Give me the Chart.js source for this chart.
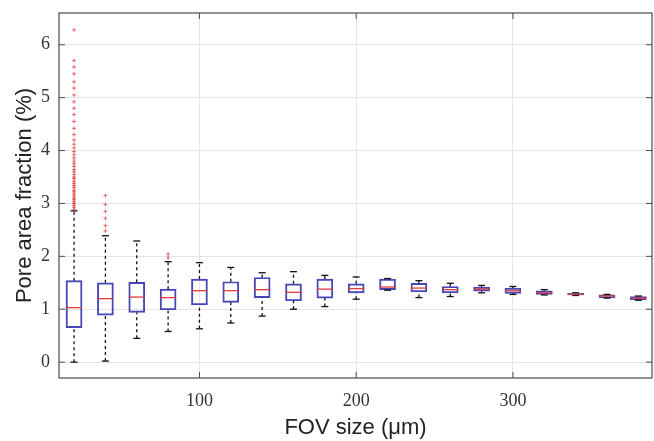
<!DOCTYPE html>
<html>
<head>
<meta charset="utf-8">
<script src="https://cdn.jsdelivr.net/npm/chart.js@4/dist/chart.umd.min.js"></script>
<style>
  body { margin: 0; background: #fff; }
</style>
</head>
<body>
<canvas id="myChart" width="654" height="441"></canvas>
<script>
// FOV sizes (um) and box stats
const fov = [20, 40, 60, 80, 100, 120, 140, 160, 180, 200, 220, 240, 260, 280, 300, 320, 340, 360, 380];
const q1 = [0.65, 0.89, 0.94, 0.99, 1.08, 1.13, 1.22, 1.16, 1.21, 1.31, 1.37, 1.33, 1.31, 1.34, 1.30, 1.28, 1.27, 1.22, 1.18];
const median = [1.03, 1.20, 1.23, 1.22, 1.35, 1.35, 1.37, 1.32, 1.38, 1.39, 1.42, 1.40, 1.37, 1.38, 1.35, 1.31, 1.28, 1.25, 1.21];
const q3 = [1.54, 1.50, 1.51, 1.38, 1.57, 1.52, 1.60, 1.48, 1.57, 1.48, 1.57, 1.49, 1.43, 1.42, 1.40, 1.35, 1.30, 1.27, 1.24];
const whiskerLo = [0.00, 0.02, 0.45, 0.58, 0.63, 0.74, 0.87, 1.00, 1.05, 1.19, 1.36, 1.22, 1.24, 1.31, 1.28, 1.27, 1.26, 1.21, 1.17];
const whiskerHi = [2.86, 2.39, 2.29, 1.90, 1.88, 1.79, 1.69, 1.71, 1.64, 1.61, 1.58, 1.54, 1.49, 1.45, 1.43, 1.37, 1.31, 1.28, 1.25];
const outliers = [
  [2.88, 2.92, 2.96, 3.0, 3.03, 3.07, 3.1, 3.14, 3.18, 3.22, 3.25, 3.3, 3.34, 3.38, 3.42, 3.47, 3.5, 3.55, 3.6, 3.64,
   3.7, 3.75, 3.8, 3.86, 3.92, 3.98, 4.05, 4.12, 4.2, 4.3, 4.42, 4.55, 4.68, 4.8, 4.92, 5.05, 5.18, 5.3, 5.45, 5.58, 5.7, 6.28],
  [2.48, 2.58, 2.72, 2.85, 2.98, 3.15],
  [],
  [1.97, 2.04],
  [], [], [], [], [], [], [], [], [], [], [], [], [], [], []
];
const yTicks = [0, 1, 2, 3, 4, 5, 6];
const xTicks = [100, 200, 300];

const boxBlue = 'rgb(70,70,185)';
const medRed = 'rgb(225,60,60)';

// build the line pieces for the dashed whiskers (gaps between them)
let whiskerPts = [];
fov.forEach((x, i) => {
  whiskerPts.push({x: x, y: q3[i]}, {x: x, y: whiskerHi[i]}, {x: x, y: null});
  whiskerPts.push({x: x, y: whiskerLo[i]}, {x: x, y: q1[i]}, {x: x, y: null});
});
let capPts = [];
fov.forEach((x, i) => {
  capPts.push({x: x, y: whiskerHi[i]}, {x: x, y: whiskerLo[i]});
});
let outPts = [];
fov.forEach((x, i) => {
  outliers[i].forEach(v => outPts.push({x: x, y: v}));
});

// frame + inward tick marks, like the matlab axes
const framePlugin = {
  id: 'frame',
  afterDraw(chart) {
    const {ctx, chartArea: a, scales} = chart;
    ctx.save();
    ctx.strokeStyle = '#4a4a4a';
    ctx.lineWidth = 1.2;
    ctx.strokeRect(a.left, a.top, a.right - a.left, a.bottom - a.top);
    ctx.lineWidth = 1;
    yTicks.forEach(v => {
      const y = scales.y.getPixelForValue(v);
      ctx.beginPath();
      ctx.moveTo(a.left, y); ctx.lineTo(a.left + 6, y);
      ctx.moveTo(a.right, y); ctx.lineTo(a.right - 6, y);
      ctx.stroke();
    });
    xTicks.forEach(v => {
      const x = scales.x.getPixelForValue(v);
      ctx.beginPath();
      ctx.moveTo(x, a.bottom); ctx.lineTo(x, a.bottom - 6);
      ctx.moveTo(x, a.top); ctx.lineTo(x, a.top + 6);
      ctx.stroke();
    });
    ctx.restore();
  }
};

const ctx = document.getElementById('myChart').getContext('2d');
const boxChart = new Chart(ctx, {
  type: 'bar',
  data: {
    datasets: [
      {
        type: 'scatter',
        label: 'median',
        data: fov.map((x, i) => ({x: x, y: median[i]})),
        pointStyle: 'line',
        pointRadius: 8,
        pointBorderColor: medRed,
        pointBorderWidth: 1.3,
        order: 0
      },
      {
        type: 'scatter',
        label: 'outliers',
        data: outPts,
        pointStyle: 'cross',
        pointRadius: 2,
        pointBorderColor: 'rgba(225,40,40,0.65)',
        pointBorderWidth: 1,
        order: 1
      },
      {
        type: 'scatter',
        label: 'caps',
        data: capPts,
        pointStyle: 'line',
        pointRadius: 3.5,
        pointBorderColor: '#111',
        pointBorderWidth: 1.3,
        order: 2
      },
      {
        type: 'line',
        label: 'whiskers',
        data: whiskerPts,
        borderColor: '#111',
        borderWidth: 1.3,
        borderDash: [3, 3],
        pointRadius: 0,
        spanGaps: false,
        order: 3
      },
      {
        type: 'bar',
        label: 'box',
        data: fov.map((x, i) => ({x: x, y: [q1[i], q3[i]]})),
        backgroundColor: 'rgba(255,255,255,0)',
        borderColor: boxBlue,
        borderWidth: 1.3,
        borderSkipped: false,
        barThickness: 16,
        grouped: false,
        order: 4
      }
    ]
  },
  options: {
    responsive: false,
    animation: false,
    layout: { autoPadding: false, padding: { top: 13, right: 2, left: 0, bottom: 0 } },
    plugins: {
      legend: { display: false },
      tooltip: { enabled: false }
    },
    scales: {
      x: {
        type: 'linear',
        offset: false,
        min: 10.4,
        max: 388.7,
        afterFit: s => { s.height = 63; s.paddingLeft = 0; s.paddingRight = 0; },
        afterBuildTicks: s => { s.ticks = xTicks.map(v => ({value: v})); },
        ticks: {
          stepSize: 100,
          includeBounds: false,
          padding: 12,
          color: '#333',
          font: { family: 'Liberation Serif', size: 18 }
        },
        grid: { color: '#e4e4e4', drawTicks: false, offset: false },
        border: { display: false },
        title: {
          display: true,
          text: 'FOV size (μm)',
          color: '#222',
          padding: { top: 0, bottom: 0 },
          font: { family: 'Liberation Sans', size: 22 }
        }
      },
      y: {
        min: -0.3,
        max: 6.6,
        afterFit: s => { s.width = 59; s.paddingTop = 0; s.paddingBottom = 0; },
        afterBuildTicks: s => { s.ticks = yTicks.map(v => ({value: v})); },
        ticks: {
          stepSize: 1,
          includeBounds: false,
          padding: 9,
          color: '#333',
          font: { family: 'Liberation Serif', size: 18 }
        },
        grid: { color: '#e4e4e4', drawTicks: false },
        border: { display: false },
        title: {
          display: true,
          text: 'Pore area fraction (%)',
          color: '#222',
          padding: { top: 12, bottom: 0 },
          font: { family: 'Liberation Sans', size: 22 }
        }
      }
    }
  },
  plugins: [framePlugin]
});
</script>
</body>
</html>
